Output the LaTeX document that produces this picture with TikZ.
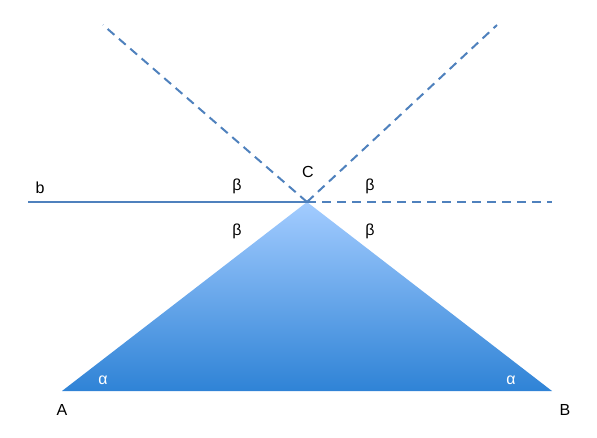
\documentclass[tikz,border=0pt]{standalone}
\usepackage{fontspec}
\setmainfont{Liberation Sans}
\usepackage{tikz}
\usetikzlibrary{calc}
\tikzset{>=latex}
\definecolor{lineblue}{RGB}{79,129,189}
\definecolor{topblue}{RGB}{163,204,255}
\definecolor{botblue}{RGB}{47,131,214}
\tikzset{
  solidline/.style = {draw = lineblue, line width = 1.5},
  dashline/.style = {draw = lineblue, line width = 2, dash pattern = on 9 off 6},
  lbl/.style = {font = \fontsize{16}{19}\selectfont, inner sep = 0}
}

\begin{document}
\begin{tikzpicture}[x = 1pt, y = -1pt]
\useasboundingbox (0,0) rectangle (597,438);
\coordinate (A) at (62,391);
\coordinate (B) at (552,391);
\coordinate (C) at (307,202);
\coordinate (bend) at (28,202);
\coordinate (rend) at (552,202);
\coordinate (ulend) at (103,25);
\coordinate (urend) at (497,25);

\shade[top color = topblue, bottom color = botblue] (A) -- (B) -- (C) -- cycle;

\draw[solidline] (bend) -- (C);
\draw[dashline] (C) -- (rend);
\draw[dashline] (C) -- (ulend);
\draw[dashline] (C) -- (urend);

\node[lbl] (lb) at (40,188) {b};
\node[lbl] (lC) at (308,172) {C};
\node[lbl] (lbeta1) at (237,186) {β};
\node[lbl] (lbeta2) at (370,186) {β};
\node[lbl] (lbeta3) at (237,231) {β};
\node[lbl] (lbeta4) at (370,231) {β};
\node[lbl, white] (lalpha1) at (103,380) {α};
\node[lbl, white] (lalpha2) at (511,380) {α};
\node[lbl] (lA) at (62,410) {A};
\node[lbl] (lB) at (565,410) {B};
\end{tikzpicture}
\end{document}
